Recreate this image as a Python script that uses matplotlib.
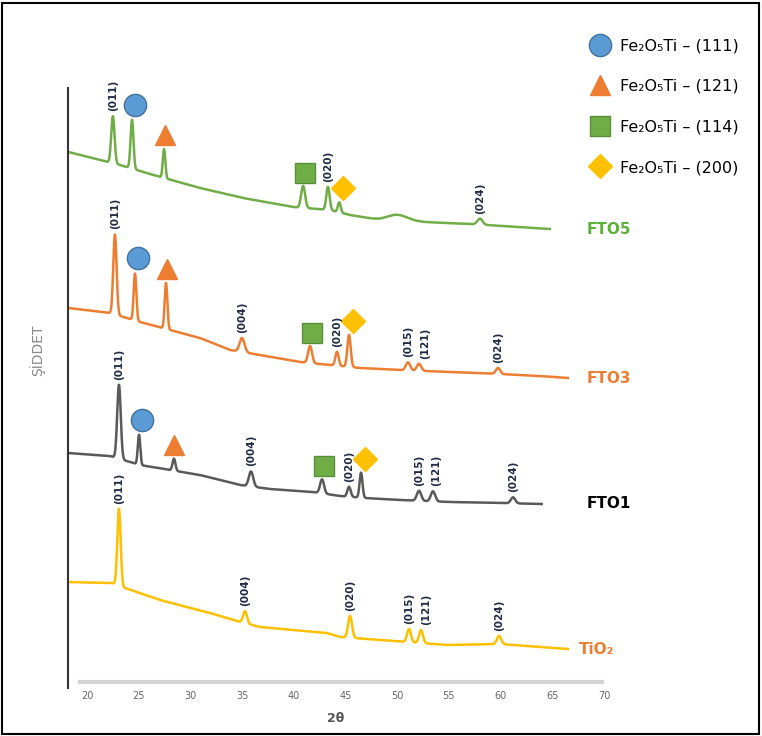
import numpy as np
import matplotlib
matplotlib.use("Agg")
import matplotlib.pyplot as plt
from matplotlib.lines import Line2D
from matplotlib.patches import Rectangle

# --------------------- Data -----------------------------------------------
# x in 2-theta (deg), intensity in arbitrary units

# FTO5
fto5_base_t = [18.2, 21.26, 23.19, 26.09, 30.93, 35.09, 39.92, 43.50, 45.44, 48.34, 52.50, 57.04, 60.23, 64.78]
fto5_base_i = [536, 528, 523, 514, 500, 490, 481, 478, 473, 468, 466, 464, 462, 459]
fto5_pos = [22.5, 24.35, 27.45, 40.9, 43.3, 44.4, 50.0, 58.0]
fto5_h = [47, 49, 29, 22, 23, 10, 6, 6]
fto5_w = [0.16, 0.14, 0.12, 0.19, 0.16, 0.14, 1.0, 0.25]
fto5_hkl = ["(011)", "", "", "", "(020)", "", "", "(024)"]
fto5_phase = ["", "111", "121", "114", "", "200", "", ""]

# FTO3
fto3_base_t = [18.2, 22.22, 25.13, 28.03, 30.93, 33.83, 36.73, 40.60, 46.40, 50.27, 55.11, 59.94, 63.81, 66.52]
fto3_base_i = [380, 375, 366, 358, 350, 338, 333, 326, 320, 318, 316, 314, 312, 310]
fto3_pos = [22.7, 24.64, 27.64, 34.99, 41.57, 44.18, 45.34, 51.04, 52.11, 59.75]
fto3_h = [80, 47, 46, 14, 17, 14, 32, 8, 7, 6]
fto3_w = [0.16, 0.13, 0.13, 0.24, 0.19, 0.16, 0.16, 0.21, 0.21, 0.21]
fto3_hkl = ["(011)", "", "", "(004)", "", "(020)", "", "(015)", "(121)", "(024)"]
fto3_phase = ["", "111", "121", "", "114", "", "200", "", "", ""]

# FTO1
fto1_base_t = [18.16, 22.22, 25.13, 28.03, 30.93, 34.80, 37.70, 41.86, 44.47, 46.89, 50.27, 55.11, 59.94, 64.0]
fto1_base_i = [235, 232, 223, 218, 213, 203, 199, 196, 192, 190, 188, 186, 185, 184]
fto1_pos = [23.09, 25.03, 28.41, 35.86, 42.73, 45.34, 46.50, 52.11, 53.46, 61.20]
fto1_h = [74, 30, 12, 15, 14, 10, 25, 10, 10, 6]
fto1_w = [0.17, 0.12, 0.14, 0.21, 0.19, 0.16, 0.14, 0.21, 0.21, 0.21]
fto1_hkl = ["(011)", "", "", "(004)", "", "(020)", "", "(015)", "(121)", "(024)"]
fto1_phase = ["", "111", "121", "", "114", "", "200", "", "", ""]

# TiO2
tio2_base_t = [18.16, 22.42, 23.68, 27.06, 31.90, 34.80, 36.73, 43.21, 44.47, 48.34, 54.82, 59.94, 63.81, 66.52]
tio2_base_i = [106, 105, 100, 88, 75, 66, 61, 55, 51, 48, 43, 44, 41, 39]
tio2_pos = [23.09, 35.28, 45.44, 51.14, 52.30, 59.85]
tio2_h = [77, 12, 22, 13, 13, 8]
tio2_w = [0.16, 0.19, 0.19, 0.19, 0.19, 0.21]
tio2_hkl = ["(011)", "(004)", "(020)", "(015)", "(121)", "(024)"]
tio2_phase = ["", "", "", "", "", ""]

series_names = ["FTO5", "FTO3", "FTO1", "TiO\u2082"]
line_colors = ["#70AD47", "#ED7D31", "#595959", "#FFC000"]
name_colors = ["#5BB03A", "#ED7D31", "#000000", "#ED7D31"]

legend_labels = ["Fe\u2082O\u2085Ti \u2013 (111)", "Fe\u2082O\u2085Ti \u2013 (121)",
                 "Fe\u2082O\u2085Ti \u2013 (114)", "Fe\u2082O\u2085Ti \u2013 (200)"]
x_ticks = [20, 25, 30, 35, 40, 45, 50, 55, 60, 65, 70]

# --------------------- Styles ------------------------
phase_style = {
    "111": dict(marker="o", color="#5B9BD5", mec="#41719C", ms=16),
    "121": dict(marker="^", color="#ED7D31", mec="#ED7D31", ms=15),
    "114": dict(marker="s", color="#70AD47", mec="#5A8F39", ms=15),
    "200": dict(marker="D", color="#FFC000", mec="#FFC000", ms=12),
}
phase_dx = {"111": 0.3, "121": 0.05, "114": 0.2, "200": 0.35}
phase_dy = {"111": 15, "121": 14, "114": 13, "200": 14}
HKL_COLOR = "#1F2A44"

def pattern(base_t, base_i, pos, h, w):
    t = np.arange(base_t[0], base_t[-1], 0.02)
    y = np.interp(t, base_t, base_i).astype(float)
    for p, a, s in zip(pos, h, w):
        y += a * np.exp(-0.5 * ((t - p) / s) ** 2)
    return t, y

series = [
    (fto5_base_t, fto5_base_i, fto5_pos, fto5_h, fto5_w, fto5_hkl, fto5_phase),
    (fto3_base_t, fto3_base_i, fto3_pos, fto3_h, fto3_w, fto3_hkl, fto3_phase),
    (fto1_base_t, fto1_base_i, fto1_pos, fto1_h, fto1_w, fto1_hkl, fto1_phase),
    (tio2_base_t, tio2_base_i, tio2_pos, tio2_h, tio2_w, tio2_hkl, tio2_phase),
]

# --------------------- Plot ------------------------
fig = plt.figure(figsize=(7.62, 7.36), dpi=100)
ax = fig.add_axes([68 / 762, 48 / 736, 536 / 762, 600 / 736])
ax.set_xlim(18.16, 70.0)
ax.set_ylim(0, 600)

for (bt, bi, pos, h, w, hkl, phase), name, lc, nc in zip(series, series_names, line_colors, name_colors):
    t, y = pattern(bt, bi, pos, h, w)
    ax.plot(t, y, color=lc, lw=1.8, solid_joinstyle="round")
    prev_x = None
    for p, lab, ph in zip(pos, hkl, phase):
        top = np.interp(p, t, y)
        if lab:
            lx = p
            if prev_x is not None and lx - prev_x < 1.5:
                lx = prev_x + 1.7
            ax.text(lx, top + 5, lab, rotation=90, ha="center", va="bottom",
                    fontsize=7.5, fontweight="bold", color=HKL_COLOR)
            prev_x = lx
        if ph:
            st = phase_style[ph]
            ax.plot(p + phase_dx[ph], top + phase_dy[ph], linestyle="none",
                    marker=st["marker"], color=st["color"], mec=st["mec"], ms=st["ms"],
                    clip_on=False)
    lx = 67.6 if name.startswith("TiO") else 68.3
    ax.text(lx, bi[-1], name, ha="left", va="center", fontsize=11,
            fontweight="bold", color=nc)

# axes
for s in ["top", "right", "bottom"]:
    ax.spines[s].set_visible(False)
ax.spines["left"].set_color("#333333")
ax.spines["left"].set_linewidth(1.5)
ax.axhline(6, xmin=(19.3 - 18.16) / (70 - 18.16), xmax=1.0, color="#D4D4D4", lw=3)
ax.set_yticks([])
ax.set_xticks(x_ticks)
ax.tick_params(axis="x", length=0, pad=2, labelsize=7, labelcolor="#666666")
ax.set_xlabel("2\u03b8", fontsize=9, fontweight="bold", color="#555555", labelpad=8)

fig.text(37 / 762, 1 - 350 / 736, "\u015e\u0130DDET", rotation=90, ha="center", va="center",
         fontsize=10, color="#888888")

# legend
handles = []
for ph in ["111", "121", "114", "200"]:
    st = phase_style[ph]
    handles.append(Line2D([], [], linestyle="none", marker=st["marker"], color=st["color"],
                          mec=st["mec"], ms=st["ms"]))
fig.legend(handles, legend_labels, loc="upper left", bbox_to_anchor=(574 / 762, 1 - 24 / 736),
           frameon=False, fontsize=11.5, labelspacing=1.6, handletextpad=0.6, handlelength=1.4)

# border
fig.patches.append(Rectangle((2 / 762, 2 / 736), 757 / 762, 731 / 736, transform=fig.transFigure,
                             fill=False, ec="black", lw=1.5))

fig.savefig("out.png", dpi=100)
